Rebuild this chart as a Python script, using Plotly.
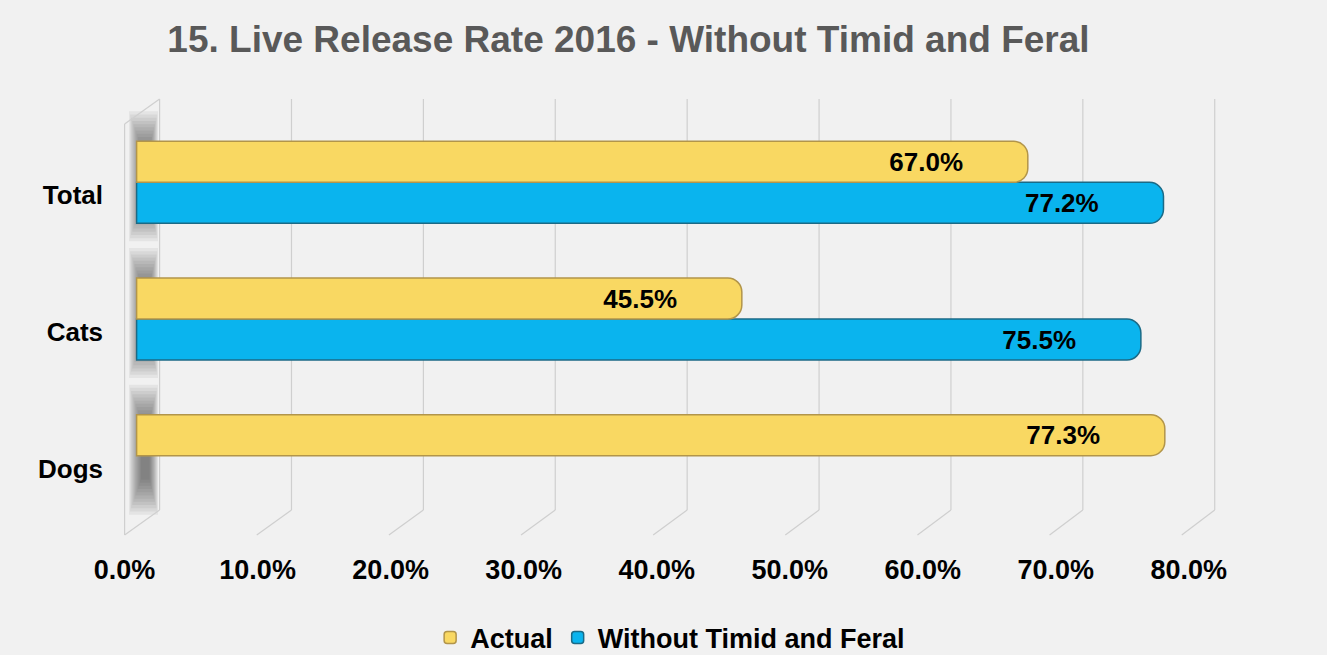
import plotly.graph_objects as go

# ---- data ----
categories = ["Dogs", "Cats", "Total"]
actual = [77.3, 45.5, 67.0]
without_timid_feral = [None, 75.5, 77.2]
tick_values = [0, 10, 20, 30, 40, 50, 60, 70, 80]
tick_labels = ["0.0%", "10.0%", "20.0%", "30.0%", "40.0%", "50.0%", "60.0%", "70.0%", "80.0%"]
title_text = "15. Live Release Rate 2016 - Without Timid and Feral"

# ---- layout geometry ----
W, H = 1327, 655
L, R, T, B = 110, 97, 114, 131
PW, PH = W - L - R, H - T - B
XR = [-2.0, 82.2]
FONT = "Liberation Sans, Arial, sans-serif"
NB = "\u00a0"

def px_x(v):
    return L + (v - XR[0]) / (XR[1] - XR[0]) * PW

def dx(px):
    return (px - L) / PW

def dy(py):
    return 1 - (py - T) / PH

# 3D-like perspective offsets for back/front planes
def back_x(v):
    return px_x(v) + 23 - 0.1125 * v

def front_x(v):
    return px_x(v) - 12 - 0.0875 * v

Y_TOP, Y_BEND, Y_BOT = 99, 510, 535
GRID = "#CFCFCF"

shapes = []
# wall shadows behind each category group (layered to fake a blur)
for i in range(len(categories)):
    cy = T + (len(categories) - 0.5 - i) / len(categories) * PH
    top, bot = cy - 41 - 30, cy + 41 + 18
    for k in range(12):
        ix = 1.1 * k
        iy = 3.2 * k
        shapes.append(dict(type="rect", xref="x domain", yref="y domain",
                           x0=dx(129 + ix), x1=dx(158 - ix * 0.7), y0=dy(bot - iy), y1=dy(top + iy),
                           fillcolor="#2a2a2a", opacity=0.06, line=dict(width=0), layer="below"))
# gridlines (back plane vertical + floor slant)
for v in tick_values:
    shapes.append(dict(type="line", xref="x domain", yref="y domain",
                       x0=dx(back_x(v)), x1=dx(back_x(v)), y0=dy(Y_TOP), y1=dy(Y_BEND),
                       line=dict(color=GRID, width=1.2), layer="below"))
    shapes.append(dict(type="line", xref="x domain", yref="y domain",
                       x0=dx(back_x(v)), x1=dx(front_x(v)), y0=dy(Y_BEND), y1=dy(Y_BOT),
                       line=dict(color=GRID, width=1.2), layer="below"))
# left wall front edge and top slant
shapes.append(dict(type="line", xref="x domain", yref="y domain",
                   x0=dx(front_x(0)), x1=dx(front_x(0)), y0=dy(Y_TOP + 25), y1=dy(Y_BOT),
                   line=dict(color=GRID, width=1.2), layer="below"))
shapes.append(dict(type="line", xref="x domain", yref="y domain",
                   x0=dx(front_x(0)), x1=dx(back_x(0)), y0=dy(Y_TOP + 25), y1=dy(Y_TOP),
                   line=dict(color=GRID, width=1.2), layer="below"))

label_font = dict(family=FONT, size=26, color="#000000", weight="bold")
tick_font = dict(family=FONT, size=27, color="#000000", weight="bold")
pad_txt = NB * 8

fig = go.Figure()
fig.add_trace(go.Bar(
    name="Without Timid and Feral", y=categories, x=without_timid_feral, orientation="h",
    marker=dict(color="#0AB4EE", line=dict(color="#1B6A86", width=1.5), cornerradius=14),
    texttemplate="%{x:.1f}%" + pad_txt, textposition="inside", insidetextanchor="end",
    textangle=0, textfont=label_font, constraintext="none", cliponaxis=False,
))
fig.add_trace(go.Bar(
    name="Actual", y=categories, x=actual, orientation="h",
    marker=dict(color="#F9D862", line=dict(color="#B2954A", width=1.5), cornerradius=14),
    texttemplate="%{x:.1f}%" + pad_txt, textposition="inside", insidetextanchor="end",
    textangle=0, textfont=label_font, constraintext="none", cliponaxis=False,
))

fig.update_layout(
    width=W, height=H,
    margin=dict(l=L, r=R, t=T, b=B, autoexpand=False),
    paper_bgcolor="#F1F1F1", plot_bgcolor="rgba(0,0,0,0)",
    barmode="group", bargap=0.4, bargroupgap=0,
    showlegend=True,
    legend=dict(orientation="h", traceorder="reversed", xref="container", yref="container",
                x=0.505, xanchor="center", y=0.026, yanchor="middle",
                font=dict(family=FONT, size=27, color="#000000", weight="bold"),
                bgcolor="rgba(0,0,0,0)", itemwidth=30),
    title=dict(text=title_text, xref="container", yref="container", x=0.4736, xanchor="center",
               y=0.94, yanchor="middle",
               font=dict(family=FONT, size=37, color="#595959", weight="bold")),
    shapes=shapes,
)
fig.update_xaxes(range=XR, tickvals=tick_values, ticktext=tick_labels, showgrid=False,
                 zeroline=False, showline=False, ticks="", ticklabelshift=-12,
                 ticklabelstandoff=27, tickfont=tick_font, fixedrange=True)
fig.update_yaxes(categoryorder="array", categoryarray=categories, showgrid=False,
                 zeroline=False, showline=False, ticks="", ticklabelshift=13,
                 ticklabelstandoff=6, tickfont=label_font, fixedrange=True)

fig.write_html("out.html", config={"displayModeBar": False},
               post_script="document.body.style.margin='0px';")
